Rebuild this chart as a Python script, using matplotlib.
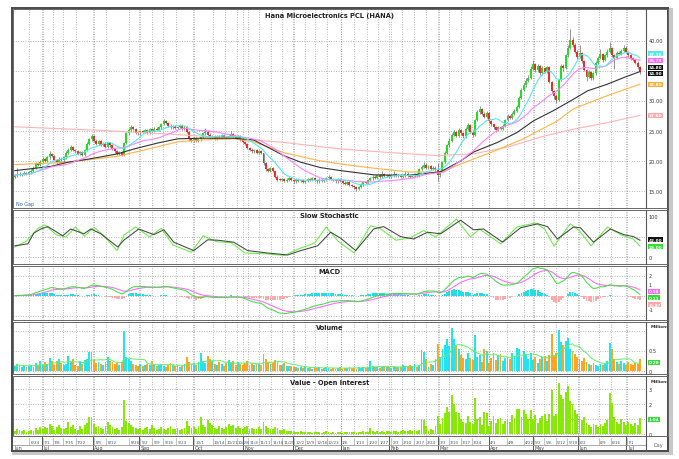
import numpy as np
import pandas as pd
import matplotlib
matplotlib.use("Agg")
import matplotlib.pyplot as plt
from matplotlib.patches import Rectangle
from matplotlib.lines import Line2D

# ---------------- data ----------------
title = "Hana Microelectronics PCL (HANA)"

closes = [
17.6, 17.9, 17.7, 17.8, 18.0, 17.9, 18.1,
18.4, 18.9, 19.6, 19.3, 19.9, 20.3, 20.0,
20.6, 21.2, 20.8, 20.2, 19.8, 20.4, 20.1, 20.6,
21.3, 21.9, 22.3, 21.8,
21.6, 21.2, 21.5, 21.0, 21.8, 22.9,
23.6, 24.1, 23.4,
22.8, 23.3, 22.7, 22.9, 22.4, 23.0, 22.6,
22.0, 21.6, 21.2, 21.5, 21.0,
23.0, 24.6, 25.2, 25.6, 25.3,
24.7, 24.6, 25.0, 24.8, 25.1, 24.7, 25.3, 25.0, 25.4, 25.2, 25.6,
26.2, 26.6, 26.3, 25.9,
25.6, 25.8, 25.5, 25.7, 25.9, 25.4, 25.6, 24.8,
23.6, 23.4, 23.8, 23.3, 23.6, 24.0,
24.6, 24.9, 24.4,
23.8, 24.1, 23.7, 24.2, 23.9, 24.3, 24.0, 23.8, 24.2, 24.5, 24.0, 23.9, 24.1, 23.6,
23.2, 22.8, 22.2,
21.9, 21.6, 21.8, 21.4, 21.6, 21.3,
19.6, 18.6, 18.4, 18.8, 18.3,
17.4, 16.9, 16.8, 17.0, 16.7, 16.9, 17.2, 16.8,
16.6, 16.9, 16.7, 16.8, 16.5, 16.7, 17.0, 16.9, 17.2, 16.8, 16.6, 16.9, 16.7, 16.8, 17.1, 17.3, 17.0, 16.8, 16.6, 16.9, 16.7,
16.4, 16.2, 16.5, 16.0, 15.8, 15.6, 15.4, 15.7,
16.1, 16.5, 16.3, 16.8, 17.1, 17.4,
17.2, 17.6, 17.4, 17.8, 17.5, 17.7, 17.3, 17.6, 17.8, 17.5, 17.7, 17.4, 17.6, 17.9, 17.5, 17.3, 17.6, 17.8, 17.5,
18.6, 19.0, 19.4, 18.8, 19.1, 18.7, 18.9, 18.5,
17.6, 18.3,
19.8, 21.4, 22.6, 23.4,
24.3, 24.8, 24.2, 25.2, 24.6, 24.1, 25.4, 26.0, 24.9, 24.3,
26.8, 28.2, 28.6, 27.9,
27.4, 28.0, 26.6, 26.2,
25.6, 25.2, 25.7, 25.4, 25.9,
26.8, 27.5, 27.2, 27.9, 28.3, 29.0,
30.5, 31.8, 32.6, 33.4, 33.9,
35.4, 36.2, 35.1, 35.8, 34.6, 35.5, 34.8, 35.6,
33.2, 31.6, 30.8, 30.2,
33.5, 35.8, 35.5,
37.6, 38.9, 40.2, 39.4,
38.2, 37.4, 38.0, 36.6, 35.2,
34.0, 34.8, 33.8, 34.6,
36.4, 37.2, 37.8, 36.8, 37.6, 38.2,
38.8, 37.6, 37.2, 38.0,
37.8, 38.4, 38.9, 38.2, 37.6,
37.1, 36.8, 36.4, 35.6, 34.8]

opens = [
17.4, 17.6, 17.9, 17.7, 17.8, 18.0, 17.9,
18.1, 18.4, 18.9, 19.6, 19.3, 19.9, 20.3,
20.0, 20.6, 21.2, 20.8, 20.2, 19.8, 20.4, 20.1,
20.6, 21.3, 21.9, 22.3,
21.8, 21.6, 21.2, 21.5, 21.0, 21.8,
22.9, 23.6, 24.1,
23.4, 22.8, 23.3, 22.7, 22.9, 22.4, 23.0,
22.6, 22.0, 21.6, 21.2, 21.5,
21.0, 23.0, 24.6, 25.2, 25.6,
25.3, 24.7, 24.6, 25.0, 24.8, 25.1, 24.7, 25.3, 25.0, 25.4, 25.2,
25.6, 26.2, 26.6, 26.3,
25.9, 25.6, 25.8, 25.5, 25.7, 25.9, 25.4, 25.6,
24.8, 23.6, 23.4, 23.8, 23.3, 23.6,
24.0, 24.6, 24.9,
24.4, 23.8, 24.1, 23.7, 24.2, 23.9, 24.3, 24.0, 23.8, 24.2, 24.5, 24.0, 23.9, 24.1,
23.6, 23.2, 22.8,
22.2, 21.9, 21.6, 21.8, 21.4, 21.6,
21.3, 19.6, 18.6, 18.4, 18.8,
18.3, 17.4, 16.9, 16.8, 17.0, 16.7, 16.9, 17.2,
16.8, 16.6, 16.9, 16.7, 16.8, 16.5, 16.7, 17.0, 16.9, 17.2, 16.8, 16.6, 16.9, 16.7, 16.8, 17.1, 17.3, 17.0, 16.8, 16.6, 16.9,
16.7, 16.4, 16.2, 16.5, 16.0, 15.8, 15.6, 15.4,
15.7, 16.1, 16.5, 16.3, 16.8, 17.1,
17.4, 17.2, 17.6, 17.4, 17.8, 17.5, 17.7, 17.3, 17.6, 17.8, 17.5, 17.7, 17.4, 17.6, 17.9, 17.5, 17.3, 17.6, 17.8,
17.5, 18.6, 19.0, 19.4, 18.8, 19.1, 18.7, 18.9,
18.5, 17.6,
18.3, 19.8, 21.4, 22.6,
23.4, 24.3, 24.8, 24.2, 25.2, 24.6, 24.1, 25.4, 26.0, 24.9,
24.3, 26.8, 28.2, 28.6,
27.9, 27.4, 28.0, 26.6,
26.2, 25.6, 25.2, 25.7, 25.4,
25.9, 26.8, 27.5, 27.2, 27.9, 28.3,
29.0, 30.5, 31.8, 32.6, 33.4,
33.9, 35.4, 36.2, 35.1, 35.8, 34.6, 35.5, 34.8,
35.6, 33.2, 31.6, 30.8,
30.2, 33.5, 35.8,
35.5, 37.6, 38.9, 40.2,
39.4, 38.2, 37.4, 38.0, 36.6,
35.2, 34.0, 34.8, 33.8,
34.6, 36.4, 37.2, 37.8, 36.8, 37.6,
38.2, 38.8, 37.6, 37.2,
38.0, 37.8, 38.4, 38.9, 38.2,
37.6, 37.1, 36.8, 36.4, 35.6]

highs = [
17.9, 18.8, 18.1, 18.0, 18.3, 18.2, 18.4,
18.6, 19.2, 19.9, 19.9, 20.2, 20.7, 20.5,
20.9, 21.6, 21.4, 21.0, 20.4, 20.7, 20.6, 20.9,
21.6, 22.2, 22.7, 22.5,
22.0, 21.8, 21.7, 21.7, 22.0, 23.2,
23.9, 24.5, 24.3,
23.6, 23.5, 23.5, 23.1, 23.1, 23.2, 23.2,
22.8, 22.2, 21.8, 21.7, 21.7,
23.2, 24.8, 25.5, 26.0, 25.8,
25.5, 24.9, 25.2, 25.2, 25.3, 25.3, 25.5, 25.5, 25.6, 25.6, 25.8,
26.4, 27.0, 26.8, 26.5,
26.1, 26.0, 26.0, 25.9, 26.1, 26.1, 25.8, 25.8,
25.0, 23.9, 24.0, 24.0, 23.8, 24.2,
24.9, 25.5, 25.1,
24.6, 24.3, 24.3, 24.4, 24.4, 24.5, 24.5, 24.2, 24.4, 25.0, 24.7, 24.2, 24.3, 24.3,
23.8, 23.4, 23.0,
22.4, 22.1, 22.0, 22.0, 21.8, 21.8,
21.4, 19.8, 18.9, 19.0, 19.0,
18.4, 17.6, 17.1, 17.2, 17.2, 17.1, 17.4, 17.4,
17.0, 17.1, 17.1, 16.9, 17.0, 16.9, 17.2, 17.2, 17.4, 17.4, 17.0, 17.1, 17.1, 17.0, 17.3, 17.6, 17.5, 17.2, 17.0, 17.1, 17.1,
16.9, 16.6, 16.7, 16.7, 16.2, 16.0, 15.8, 15.9,
16.3, 16.7, 16.7, 17.0, 17.3, 17.7,
17.6, 17.8, 17.8, 18.3, 18.0, 17.9, 17.9, 17.8, 18.4, 18.0, 17.9, 17.9, 17.8, 18.3, 18.1, 17.7, 17.8, 18.0, 18.0,
18.8, 19.4, 19.9, 19.6, 19.4, 19.3, 19.2, 19.1,
19.6, 18.5,
20.0, 21.7, 22.9, 23.8,
24.6, 25.2, 25.0, 25.5, 25.4, 24.8, 25.7, 26.3, 26.1, 25.1,
27.0, 28.5, 29.2, 28.9,
28.1, 28.4, 28.2, 26.9,
26.4, 25.8, 25.9, 25.9, 26.1,
27.0, 27.8, 27.7, 28.2, 28.6, 29.3,
30.8, 32.1, 33.0, 33.8, 34.3,
35.8, 36.8, 36.4, 36.1, 36.0, 35.8, 35.7, 35.9,
35.8, 33.4, 31.9, 31.1,
33.7, 36.1, 36.2,
37.9, 39.3, 42.0, 40.6,
39.6, 38.5, 39.4, 38.2, 36.9,
35.4, 35.1, 35.0, 34.9,
36.7, 37.5, 38.6, 38.0, 37.9, 38.6,
39.8, 39.0, 37.9, 38.3,
38.3, 38.7, 39.3, 39.1, 38.4,
37.8, 37.3, 37.0, 36.6, 35.8]

lows = [
17.2, 17.4, 17.5, 17.5, 17.6, 17.7, 17.7,
17.9, 18.2, 18.7, 19.1, 19.1, 19.7, 19.8,
19.8, 20.4, 20.6, 20.0, 19.5, 19.6, 19.9, 19.9,
20.4, 21.1, 21.7, 21.6,
21.4, 21.0, 21.0, 20.8, 20.8, 21.6,
22.7, 23.4, 23.2,
22.6, 22.6, 22.5, 22.5, 22.2, 22.2, 22.4,
21.8, 21.4, 21.0, 21.0, 20.8,
20.9, 22.8, 24.4, 25.0, 25.1,
24.5, 24.4, 24.4, 24.6, 24.6, 24.5, 24.5, 24.8, 24.8, 25.0, 25.0,
25.4, 26.0, 26.1, 25.7,
25.4, 25.4, 25.3, 25.3, 25.5, 25.2, 25.2, 24.6,
23.4, 23.2, 23.2, 23.1, 23.1, 23.4,
23.8, 24.4, 24.2,
23.6, 23.6, 23.5, 23.5, 23.7, 23.7, 23.8, 23.6, 23.6, 24.0, 23.8, 23.7, 23.7, 23.4,
23.0, 22.6, 22.0,
21.7, 21.4, 21.4, 21.2, 21.2, 21.1,
19.4, 18.4, 18.2, 18.2, 18.1,
17.2, 16.7, 16.6, 16.6, 16.5, 16.5, 16.7, 16.6,
16.4, 16.4, 16.5, 16.5, 16.3, 16.3, 16.5, 16.7, 16.7, 16.6, 16.4, 16.4, 16.5, 16.5, 16.6, 16.9, 16.8, 16.6, 16.4, 16.4, 16.5,
16.2, 16.0, 16.0, 15.8, 15.6, 15.4, 15.0, 15.2,
15.5, 15.9, 16.1, 16.1, 16.6, 16.9,
17.0, 17.0, 17.2, 17.2, 17.3, 17.3, 17.1, 17.1, 17.4, 17.3, 17.3, 17.2, 17.2, 17.4, 17.3, 17.1, 17.1, 17.4, 17.3,
17.4, 18.4, 18.8, 18.6, 18.6, 18.5, 18.5, 18.3,
16.6, 17.4,
18.1, 19.6, 21.2, 22.4,
23.2, 24.1, 24.0, 24.0, 24.4, 23.9, 23.9, 25.2, 24.7, 24.0,
24.1, 26.6, 27.8, 27.6,
27.1, 27.2, 26.4, 25.9,
25.4, 24.9, 25.0, 25.2, 25.2,
25.7, 26.6, 27.0, 27.0, 27.7, 28.1,
28.8, 30.3, 31.6, 32.4, 33.1,
33.7, 35.1, 34.9, 34.9, 34.4, 34.4, 34.6, 34.6,
33.0, 31.4, 30.4, 29.6,
30.0, 33.3, 35.0,
35.3, 37.4, 38.7, 39.0,
38.0, 37.0, 37.2, 36.4, 35.0,
33.4, 33.8, 33.5, 33.5,
34.4, 36.2, 37.0, 36.5, 36.6, 37.4,
38.0, 37.4, 35.4, 37.0,
37.6, 37.6, 38.2, 38.0, 37.4,
36.9, 36.6, 36.2, 35.4, 34.5]

volumes = [
0.12, 0.18, 0.15, 0.10, 0.14, 0.09, 0.13, 0.16, 0.11, 0.20, 0.14, 0.25,
0.15, 0.22, 0.18, 0.33, 0.26, 0.14, 0.25, 0.31, 0.20, 0.16, 0.18, 0.37, 0.22, 0.29, 0.15, 0.12, 0.24, 0.17, 0.28, 0.31,
0.48, 0.47, 0.30, 0.20, 0.22, 0.18, 0.15, 0.23, 0.36, 0.26, 0.22, 0.17, 0.20, 0.14, 0.22,
1.00, 0.35, 0.30, 0.24, 0.18, 0.15, 0.13, 0.17, 0.12, 0.15,
0.18, 0.14, 0.25, 0.16, 0.12, 0.14, 0.18, 0.13, 0.11, 0.16, 0.20, 0.14, 0.12, 0.15, 0.10, 0.13, 0.17, 0.34, 0.22,
0.18, 0.20, 0.15, 0.22, 0.46, 0.25, 0.20, 0.38, 0.30, 0.24, 0.18, 0.15, 0.22, 0.17, 0.13, 0.19, 0.28, 0.21, 0.25, 0.16, 0.22, 0.18, 0.14,
0.20, 0.24, 0.16, 0.19, 0.14, 0.17, 0.21, 0.15, 0.42, 0.30, 0.22, 0.18, 0.20, 0.28, 0.22, 0.16, 0.14, 0.19, 0.13, 0.12,
0.12, 0.09, 0.10, 0.08, 0.11, 0.07, 0.09, 0.08, 0.10, 0.06, 0.08, 0.07, 0.09, 0.06, 0.08, 0.10, 0.07, 0.06, 0.08, 0.05, 0.07, 0.09, 0.06, 0.08, 0.07, 0.10, 0.08,
0.08, 0.06, 0.09, 0.07, 0.11, 0.08, 0.10, 0.25, 0.12, 0.09, 0.10, 0.08, 0.11, 0.09, 0.12, 0.10, 0.08, 0.13, 0.10, 0.09, 0.11, 0.15, 0.12, 0.10, 0.16, 0.13, 0.17, 0.11, 0.14, 0.52, 0.48, 0.30, 0.10, 0.18, 0.15,
0.30, 0.68, 0.35, 0.55, 0.66, 0.80, 0.62, 1.08, 0.80, 0.62, 0.55, 0.40, 0.33, 0.30, 0.46, 0.32, 0.28, 0.90, 0.36, 0.40,
0.22, 0.54, 0.50, 0.20, 0.33, 0.46, 0.28, 0.40, 0.42, 0.25, 0.32, 0.35, 0.30, 0.46, 0.38, 0.58, 0.54, 0.35, 0.50, 0.40, 0.30,
0.45, 0.28, 0.36, 0.20, 0.30, 0.34, 0.38, 0.25, 0.40, 0.93, 0.38, 0.44, 1.02, 0.72, 0.66, 0.75, 0.82, 0.55, 0.50, 0.42, 0.35, 0.30, 0.26, 0.33,
0.22, 0.18, 0.14, 0.20, 0.16, 0.12, 0.18, 0.15, 0.20, 0.25, 0.70, 0.55, 0.30, 0.22, 0.18, 0.26, 0.20, 0.16, 0.22, 0.18, 0.15, 0.20, 0.17, 0.30]

# longer moving averages (bar index, price)
ma_black_bar = [0, 15.5, 22.8, 31.4, 44.3, 51.2, 61.5, 70.1, 80, 94.2, 102.8, 108.8, 115.7, 123, 131.6, 140.2, 154.4, 169, 183.2, 191.8, 197.4, 207.7, 216.3, 223.2, 231.8, 240.4, 246.5, 255, 262, 269]
ma_black_val = [18.4, 19.1, 19.8, 20.3, 21.2, 22.0, 23.0, 23.7, 23.8, 23.8, 23.5, 22.3, 20.9, 19.8, 18.9, 18.4, 17.7, 17.6, 18.2, 20.0, 21.5, 23.1, 24.8, 26.7, 28.4, 30.3, 31.7, 32.8, 33.9, 34.9]
ma_orange_bar = [0, 22.8, 44.3, 58.5, 70.1, 80, 94.2, 102.8, 115.7, 130.3, 140.2, 154.4, 169, 183.2, 191.8, 204.7, 218.9, 233.5, 240.4, 255, 269]
ma_orange_val = [19.4, 19.8, 20.8, 22.1, 23.2, 23.5, 23.7, 23.2, 21.4, 20.1, 19.5, 18.8, 18.2, 18.1, 19.5, 21.4, 23.7, 26.7, 28.7, 30.9, 32.8]
ma_pink_bar = [0, 37, 65.8, 94.2, 115.7, 140.2, 161.7, 182, 197.4, 212, 226.2, 240.4, 255, 269]
ma_pink_val = [25.7, 25.1, 24.5, 23.8, 23.1, 22.0, 21.4, 20.9, 21.2, 22.3, 24.0, 25.3, 26.4, 27.6]

# slow stochastic (bar index, value)
stoch_d_bar = [0, 5.6, 8.2, 11.2, 14.2, 20.6, 24, 29.7, 32.7, 37, 44.3, 46.9, 53.3, 59.8, 64.1, 68.4, 77, 83, 87.3, 94.2, 100.2, 108.8, 117.4, 123, 130.3, 135.9, 140.2, 146.7, 154.4, 158.7, 166, 171.6, 177.6, 183.2, 191.8, 197.4, 201.7, 209.9, 217.6, 225, 229.2, 233.5, 240.4, 243.4, 249, 256.3, 262, 266.2, 269]
stoch_d_val = [28, 33, 60, 70, 76, 53, 70, 58, 70, 58, 25, 42, 70, 56, 68, 37, 16, 43, 42, 37, 16, 10, 5, 16, 28, 62, 47, 16, 70, 76, 51, 45, 62, 58, 92, 68, 70, 37, 73, 83, 76, 45, 75, 73, 37, 70, 56, 51, 42]
stoch_k_bar = [0, 5, 10, 13, 18, 22, 26, 30, 34, 38, 44, 47, 52, 58, 63, 68, 76, 81, 87, 93, 99, 108, 116, 122, 129, 134, 139, 146, 153, 157, 164, 170, 176, 181, 190, 196, 200, 209, 216, 224, 228, 232, 239, 243, 248, 255, 261, 266, 269]
stoch_k_val = [25, 40, 72, 80, 55, 50, 75, 52, 74, 55, 16, 55, 75, 50, 72, 30, 12, 53, 38, 36, 10, 8, 4, 20, 35, 75, 40, 10, 78, 72, 42, 48, 66, 50, 95, 50, 70, 33, 75, 85, 70, 27, 83, 65, 28, 75, 55, 45, 28]

# date axis
week_pos = [6.3, 11.9, 16.2, 20.9, 26.1, 34.2, 39.4, 49.3, 54.0, 59.2, 63.9, 69.5, 77.2, 85.3, 90.6, 95.6, 100.4, 105.0, 110.4, 115.1, 120.3, 124.8, 129.3, 134.2, 140.4, 146.1, 151.7, 156.4, 162.0, 166.7, 171.9, 177.0, 182.6, 186.9, 192.1, 196.8, 204.1, 211.9, 219.2, 223.4, 227.8, 232.9, 237.7, 242.8, 251.4, 256.6, 263.5]
week_lbl = ["6/24", "7/1", "7/8", "7/15", "7/22", "8/5", "8/12", "8/26", "9/2", "9/9", "9/16", "9/23", "10/1", "10/14", "10/21", "10/28", "11/4", "11/11", "11/18", "11/25", "12/2", "12/9", "12/16", "12/23", "1/6", "1/13", "1/20", "1/27", "2/3", "2/10", "2/17", "2/24", "3/3", "3/10", "3/17", "3/24", "4/1", "4/8", "4/22", "5/2", "5/6", "5/12", "5/19", "6/2", "6/9", "6/16", "7/1"]
month_pos = [-0.8, 11.6, 33.5, 53.3, 76.6, 98.1, 119.6, 140.2, 160.9, 181.9, 203.9, 222.8, 242.2, 263.2]
month_lbl = ["Jun", "Jul", "Aug", "Sep", "Oct", "Nov", "Dec", "Jan", "Feb", "Mar", "Apr", "May", "Jun", "Jul"]

# ---------------- derived series ----------------
df = pd.DataFrame({"o": opens, "h": highs, "l": lows, "c": closes, "v": volumes})
n = len(df)
x = np.arange(n)
ma10 = df.c.rolling(10, min_periods=1).mean()
ma25 = df.c.rolling(25, min_periods=1).mean()
ema12 = df.c.ewm(span=12, adjust=False).mean()
ema26 = df.c.ewm(span=26, adjust=False).mean()
macd = ema12 - ema26
signal = macd.ewm(span=9, adjust=False).mean()
hist = macd - signal
vol_ma = df.v.rolling(10, min_periods=1).mean()
value = df.v * df.c / 10.0

# ---------------- figure ----------------
W, H = 679, 460
fig = plt.figure(figsize=(W / 100, H / 100), dpi=100)
fig.patch.set_facecolor("white")
plt.rcParams["font.family"] = ["DejaVu Sans"]

XMIN, XMAX = -0.8, 271.6
L, R, RR = 13, 646, 668


def ax_at(y0, y1):
    a = fig.add_axes([L / W, 1 - y1 / H, (R - L) / W, (y1 - y0) / H])
    a.set_xlim(XMIN, XMAX)
    a.set_axis_off()
    return a


def fline(x0, y0, x1, y1, **kw):
    fig.add_artist(Line2D([x0 / W, x1 / W], [1 - y0 / H, 1 - y1 / H],
                          transform=fig.transFigure, **kw))


def frect(x0, y0, x1, y1, **kw):
    fig.add_artist(Rectangle((x0 / W, 1 - y1 / H), (x1 - x0) / W, (y1 - y0) / H,
                             transform=fig.transFigure, **kw))


GRID = dict(color="#8a8a8a", lw=0.55, ls=(0, (1, 2.2)), zorder=0)


def vgrid(a):
    for p in week_pos + month_pos[1:]:
        a.axvline(p, **GRID)


def rlabel(a, v, s):
    a.text(1.004, v, s, transform=a.get_yaxis_transform(), fontsize=3.6,
           color="#333333", va="center", ha="left", clip_on=False)


def badge(a, v, s, fc, tc="white"):
    a.text(1.004, v, s, transform=a.get_yaxis_transform(), fontsize=3.1,
           color=tc, va="center", ha="left", clip_on=False, fontweight="bold",
           bbox=dict(boxstyle="square,pad=0.12", fc=fc, ec="none"))


def ptitle(a, s, yp=0.955):
    a.text(0.5, yp, s, transform=a.transAxes, ha="center", va="top",
           fontsize=4.8, fontweight="bold", color="#222222", zorder=10)


def millions(a):
    a.text(1.008, 0.92, "Millions", transform=a.transAxes, fontsize=3.1,
           fontweight="bold", color="#333333", va="center", ha="left")


panels = [(10, 209), (211, 265), (267, 321), (323, 375), (377, 437)]

# outer decorations
frect(12, 452, 673, 456, fc="#c8c8c8", ec="none")
frect(668, 9, 673, 456, fc="#c8c8c8", ec="none")
frect(12, 9, 668, 452, fc="none", ec="#4a4a4a", lw=1.4)
for (t, b) in panels:
    frect(L, t, RR, b, fc="none", ec="#666666", lw=0.7)
    fline(R, t, R, b, color="#555555", lw=0.8)
fline(L, 446, R, 446, color="#999999", lw=0.6)
fline(R, 437, R, 452, color="#555555", lw=0.8)

# ---------------- main price panel ----------------
ax = ax_at(*panels[0])
ax.set_ylim(12.17, 45.33)
vgrid(ax)
for v in [15, 20, 25, 30, 35, 40]:
    ax.axhline(v, **GRID)
for v in [15, 20, 25, 30, 40]:
    rlabel(ax, v, f"{v:.2f}")
up = df.c >= df.o
ax.vlines(x, df.l, df.h, color="#666666", lw=0.5, zorder=2)
body = (df.c - df.o).abs().clip(lower=0.12)
bot = np.minimum(df.o, df.c)
ax.bar(x[up], body[up], bottom=bot[up], width=0.85, color="#22dd22", zorder=3, lw=0)
ax.bar(x[~up], body[~up], bottom=bot[~up], width=0.85, color="#ee2a2a", zorder=3, lw=0)
ax.plot(ma_pink_bar, ma_pink_val, color="#ffb4b4", lw=0.8, zorder=4)
ax.plot(ma_orange_bar, ma_orange_val, color="#ffb347", lw=0.8, zorder=4)
ax.plot(ma_black_bar, ma_black_val, color="#333333", lw=0.8, zorder=4)
ax.plot(x, ma25, color="#ff80ff", lw=0.8, zorder=4)
ax.plot(x, ma10, color="#55e8f0", lw=0.8, zorder=4)
ptitle(ax, title, 0.985)
ax.text(0.005, 0.01, "No Gap", transform=ax.transAxes, fontsize=3.5,
        color="#3366aa", va="bottom", ha="left")
badge(ax, 37.9, f"{ma10.iloc[-1]:.2f}", "#55e8f0")
badge(ax, 36.8, f"{ma25.iloc[-1]:.2f}", "#ff66ff")
badge(ax, 35.6, f"{closes[-1]:.2f}", "#111111")
badge(ax, 34.6, f"{ma_black_val[-1]:.2f}", "#111111")
badge(ax, ma_orange_val[-1], f"{ma_orange_val[-1]:.2f}", "#ffae3a")
badge(ax, ma_pink_val[-1], f"{ma_pink_val[-1]:.2f}", "#ffa8a8")

# ---------------- slow stochastic ----------------
ax = ax_at(*panels[1])
ax.set_ylim(-17.5, 117.5)
vgrid(ax)
for v in [0, 50, 100]:
    ax.axhline(v, **GRID)
for v in [0, 100]:
    rlabel(ax, v, str(v))
ax.plot(stoch_k_bar, stoch_k_val, color="#66ee44", lw=0.75, zorder=3)
ax.plot(stoch_d_bar, stoch_d_val, color="#444444", lw=0.75, zorder=4)
ptitle(ax, "Slow Stochastic")
badge(ax, 43, f"{stoch_d_val[-1]:.2f}", "#111111")
badge(ax, 26, f"{stoch_k_val[-1]:.2f}", "#33dd33")

# ---------------- MACD ----------------
ax = ax_at(*panels[2])
ax.set_ylim(-2.43, 2.97)
vgrid(ax)
for v in [-2, 0, 2]:
    ax.axhline(v, **GRID)
rlabel(ax, 2, "2")
rlabel(ax, 1.1, "1")
rlabel(ax, -1.4, "-1")
hc = np.where(hist >= 0, "#22dde8", "#ffaaaa")
ax.bar(x, hist, width=0.8, color=hc, zorder=2, lw=0)
ax.plot(x, signal, color="#ff66ff", lw=0.75, zorder=3)
ax.plot(x, macd, color="#44dd44", lw=0.75, zorder=4)
ptitle(ax, "MACD")
badge(ax, 0.45, f"{signal.iloc[-1]:.2f}", "#ff66ff")
badge(ax, -0.22, f"{macd.iloc[-1]:.2f}", "#33dd33")
badge(ax, -0.89, f"{hist.iloc[-1]:.2f}", "#ffa8a8")

# ---------------- Volume ----------------
ax = ax_at(*panels[3])
ax.set_ylim(-0.075, 1.225)
vgrid(ax)
for v in [0, 0.5, 1.0]:
    ax.axhline(v, **GRID)
rlabel(ax, 0.5, "0.5")
rlabel(ax, -0.02, "0")
millions(ax)
vc = np.where(up, "#22e4f0", "#ffa620")
ax.bar(x, df.v, width=0.8, color=vc, zorder=2, lw=0)
ax.plot(x, vol_ma, color="#66ee66", lw=0.7, zorder=3)
ptitle(ax, "Volume")
badge(ax, 0.22, f"{vol_ma.iloc[-1]:.2f}", "#33dd33")

# ---------------- Value ----------------
ax = ax_at(*panels[4])
ax.set_ylim(-0.13, 3.87)
vgrid(ax)
for v in [0, 1, 2, 3]:
    ax.axhline(v, **GRID)
for v in [0, 2, 3]:
    rlabel(ax, v, str(v))
millions(ax)
ax.bar(x, value, width=0.8, color="#88e80a", zorder=2, lw=0)
ptitle(ax, "Value - Open Interest")
badge(ax, 1.0, f"{value.iloc[-1]:.2f}", "#33dd33")

# ---------------- date axis ----------------
dax = fig.add_axes([L / W, 1 - 452 / H, (R - L) / W, 15 / H])
dax.set_xlim(XMIN, XMAX)
dax.set_ylim(15, 0)
dax.set_axis_off()
for p, s in zip(week_pos, week_lbl):
    dax.plot([p, p], [1.5, 9], color="#aaaaaa", lw=0.5)
    dax.text(p + 0.4, 5.6, s, fontsize=3.0, color="#445566", va="center", ha="left")
for p, s in zip(month_pos, month_lbl):
    if p > 0:
        dax.plot([p, p], [0, 15], color="#555555", lw=0.7)
    dax.text(p + 0.7, 11.8, s, fontsize=3.5, color="#444444", va="center", ha="left")
fig.text(653 / W, 1 - 446 / H, "Day", fontsize=3.6, color="#666666", va="center", ha="left")

fig.savefig("out.png", dpi=100, facecolor="white")
